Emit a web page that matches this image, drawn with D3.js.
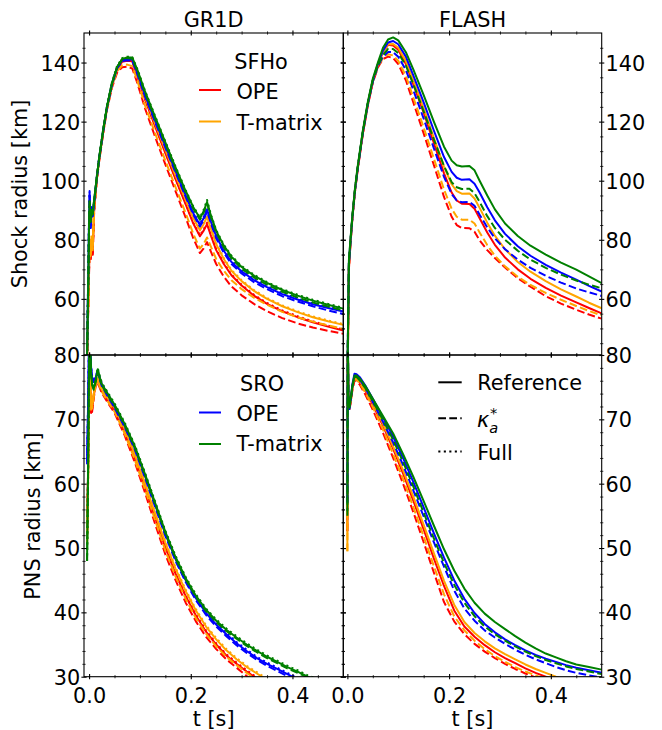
<!DOCTYPE html>
<html><head><meta charset="utf-8">
<script src="https://cdn.jsdelivr.net/npm/d3@7"></script>
<style>
body{margin:0;background:#fff}
svg{display:block;background:#fff}
text{font-family:"DejaVu Sans",sans-serif;fill:#000}
</style>
</head><body>
<svg id="chart" width="662" height="730"></svg>
<script>
// ---------------- DATA ----------------
const panelTitles = ["GR1D", "FLASH"];
const xTickValues = [0.0, 0.2, 0.4];
const yTicksShock = [60, 80, 100, 120, 140];
const yTicksPNS = [30, 40, 50, 60, 70, 80];

// GR1D shock radius [km]
const tGR1DShock = [-0.006,-0.002,0.000,0.001,0.003,0.005,0.007,0.010,0.015,0.020,0.028,0.035,0.045,0.055,0.065,0.075,0.085,0.095,0.11,0.13,0.15,0.17,0.19,0.205,0.218,0.225,0.232,0.24,0.25,0.265,0.28,0.30,0.325,0.35,0.38,0.41,0.44,0.47,0.50];
const gr1dShockRedRef   = [20,55,70,79,73.5,80,75,90,100.3,107.3,116.8,124.3,132.2,137.5,140.3,140.6,140.4,135.3,127.5,118.3,109.3,100.5,92,85.5,81.2,83,85.3,81.2,76.5,71.8,68,64.5,61,58.3,55.8,53.8,52.1,50.6,49.3];
const gr1dShockRedKa    = [20,54,69,78,73,79,74.5,89.5,99.8,106.8,116.3,123.8,131.5,136.5,138.4,138.6,138,133,124.5,114.8,105.5,96.5,87.5,80.5,75.5,77,79.2,75.8,71.8,67.5,64.2,61.2,58.2,55.8,53.5,51.7,50.3,49.2,48.2];
const gr1dShockRedFull  = [20,55,70.5,79.5,74,80.5,75.5,90.3,100.5,107.5,117,124.5,132.4,137.7,140.5,140.8,140.6,135.6,127.8,118.6,109.6,100.8,92.3,85.8,81.5,83.4,85.8,81.5,76.8,72.1,68.3,64.8,61.3,58.6,56.1,54.1,52.4,50.9,49.6];
const gr1dShockOrgRef   = [20,56,72,80,75,81,77,91,100.5,107.5,117,124.5,132.5,138,141,141.5,141.3,136,128.3,119.3,110.5,101.8,93.5,87.3,83.2,85.2,87.8,83.5,78.5,73.5,69.5,66,62.6,60,57.5,55.5,53.8,52.4,51.2];
const gr1dShockOrgKa    = [20,55,71,79,74.5,80,76.5,90.5,100,107,116.5,124,131.8,137,139,139.3,138.8,133.8,125.5,116,106.8,97.8,89,82,77,78.5,80.8,77.5,73.5,69.5,66.3,63.3,60.3,58,55.6,53.8,52.3,51,49.9];
const gr1dShockOrgFull  = [20,56,72.5,80.5,75.5,81.5,77.5,91.2,100.7,107.7,117.2,124.7,132.7,138.2,141.2,141.7,141.5,136.3,128.6,119.6,110.8,102.1,93.8,87.6,83.5,85.6,88.3,83.8,78.8,73.8,69.8,66.3,62.9,60.3,57.8,55.8,54.1,52.7,51.5];
const gr1dShockBluRef   = [20,64,88,96,84,91,88,93,100.8,107.8,117.3,124.8,132.8,138.2,140.8,141.1,141,136.5,129,120.3,111.8,103.3,95,89,85,87.2,90.2,86,81.2,76.3,72.5,69.3,66.3,64,61.6,59.8,58.2,56.9,55.7];
const gr1dShockBluKa    = [20,63,87,95,84,90.5,88,92.8,100.6,107.6,117,124.5,132.5,138,140.5,140.8,140.6,136,128.5,119.8,111.2,102.8,94.5,88.5,84.5,86.6,89.6,85.4,80.5,75.6,71.8,68.6,65.6,63.3,60.9,59.1,57.5,56.1,54.9];
const gr1dShockBluFull  = [20,64,88.5,96.5,84.5,91,88.5,93.2,101,108,117.5,125,133,138.5,141,141.3,141.2,136.8,129.3,120.6,112.1,103.6,95.3,89.3,85.3,87.6,90.8,86.3,81.5,76.6,72.8,69.6,66.6,64.3,61.9,60.1,58.5,57.2,56];
const gr1dShockGrnRef   = [20,62,86,93,86,90,89,93.5,101,108,117.5,125,133,138.5,141.2,141.7,141.7,137.5,130.2,121.5,113,104.5,96.5,91,87.3,89.5,92.8,88,83,78,74.3,70.8,67.8,65.4,63,61.1,59.4,58,56.7];
const gr1dShockGrnKa    = [20,61,85,92,86,89.5,88.5,93,100.8,107.8,117.3,124.8,132.8,138.3,141,141.5,141.3,137,129.8,121,112.5,104,96,90.5,86.8,89,92.3,87.5,82.5,77.4,73.7,70.2,67.2,64.8,62.4,60.5,58.8,57.4,56.1];
const gr1dShockGrnFull  = [20,62,86.5,93.5,86.5,90.5,89,93.5,101.2,108.2,117.8,125.3,133.3,138.8,141.5,142,141.8,137.8,130.5,121.8,113.3,104.8,96.8,91.3,87.6,90,93.5,88.3,83.3,78.3,74.6,71.1,68.1,65.7,63.3,61.4,59.7,58.3,57];

// FLASH shock radius [km]
const tFLASHShock = [-0.002,0.001,0.003,0.006,0.010,0.015,0.020,0.030,0.040,0.050,0.060,0.070,0.080,0.090,0.100,0.115,0.130,0.150,0.170,0.190,0.205,0.215,0.225,0.240,0.250,0.260,0.275,0.290,0.310,0.335,0.360,0.390,0.420,0.450,0.475,0.500];
const flashShockRedRef  = [5,40,70,78.5,87.5,96.5,103.5,115.5,125.5,133.5,139.3,143.5,146,145.8,144.3,139.5,132.5,123,112.8,102.5,96,93.3,92.2,92.1,90.5,87.3,82.5,78.3,74,70,66.8,63.7,61.1,58.8,56.9,55.1];
const flashShockRedKa   = [5,40,70,78.3,87.3,96.3,103.3,115.3,125.3,133.2,138.3,141.2,142,141.5,139.5,134,126.3,116,105.3,94.5,87.8,85,84,83.9,82.7,79.8,76.5,73.8,70.6,67,64.1,60.9,58.4,56.3,54.7,53.3];
const flashShockOrgRef  = [10,44,71,79,88,97,104,116,126,134,139.3,143.5,146.2,146.3,145,140.5,133.8,124.5,114.5,104.8,98.8,96.5,95.6,95.7,94,90.8,85.8,81.4,76.8,72.5,69.2,66,63.2,60.8,58.7,56.8];
const flashShockOrgKa   = [10,44,71,78.8,87.8,96.8,103.8,115.8,125.8,133.5,138.5,141.5,142.8,142.4,140.6,135.5,128,118,107.5,97,90.5,87.8,86.8,86.8,85.5,82.5,78.2,74.6,71,67.5,64.7,62,59.7,57.6,55.9,54.4];
const flashShockBluRef  = [10,47,72,79.5,88,97,104,116,126,134,139.5,144,146.8,147.3,146.2,142,135.5,126.5,117,108,103,101,100.3,100.5,99,96,91,86.6,82,77.8,74.6,71.5,68.9,66.5,64.4,62.5];
const flashShockBluKa   = [10,46,72,79,87.8,96.8,103.8,115.8,125.8,133.5,138.8,142,143.6,143.5,142,137.5,130.5,121,111,101.3,95.5,93.3,92.7,92.8,91.5,88.5,84.2,80.5,76.8,73.3,70.5,67.8,65.5,63.5,62.2,61];
const flashShockGrnRef  = [10,46,73,80,88.5,97.5,104.5,116.5,126.5,134.5,140,145,147.8,148.5,147.5,143.5,137.5,129,120,111.5,106.8,105.2,104.8,105,103.5,100,95,90.3,85.5,81.3,78,75,72.3,69.9,67.6,65.3];
const flashShockGrnKa   = [10,46,72.5,79.5,88,97,104,116,126,134,139,142.5,144.6,144.6,143.2,139,132.5,123.5,114,105,99.5,97.8,97.2,97.3,95.8,92.8,88,84,80,76.3,73.3,70.5,68.2,66.2,64.8,63.6];

// GR1D PNS radius [km]
const tGR1DPNS = [-0.004,-0.002,0.000,0.002,0.004,0.006,0.009,0.013,0.017,0.020,0.025,0.035,0.050,0.070,0.090,0.110,0.130,0.150,0.170,0.190,0.210,0.230,0.250,0.270,0.290,0.310,0.330,0.350,0.370,0.390,0.410,0.430,0.450];
const gr1dPNSRedRef   = [52,62,78,76,71,71.5,73.5,75.5,76,75.4,74.4,73.2,71.5,68.1,64.1,59.5,54.7,50.1,46,42.5,39.5,37,35,33.3,32,30.8,29.7,28.8,28,27.3,26.7,26.2,25.7];
const gr1dPNSRedKa    = [52,61,77.5,75.5,70.8,71.2,73.2,75.2,75.7,75.1,74.1,72.8,71,67.5,63.3,58.6,53.7,49,45,41.5,38.6,36.2,34.3,32.7,31.4,30.1,29.1,28.2,27.4,26.7,26.1,25.6,25.1];
const gr1dPNSRedFull  = [52,62,78.5,76.3,71.3,71.7,73.7,75.7,76.2,75.6,74.6,73.4,71.7,68.3,64.3,59.7,54.9,50.3,46.2,42.7,39.7,37.2,35.2,33.5,32.2,31,29.9,29,28.2,27.5,26.9,26.4,25.9];
const gr1dPNSOrgRef   = [50.5,60,78,77,72,72,73.8,75.6,76.2,75.6,74.6,73.5,71.8,68.5,64.5,60,55.3,50.8,46.8,43.3,40.3,37.8,35.8,34.1,32.7,31.5,30.5,29.5,28.7,28,27.4,26.8,26.3];
const gr1dPNSOrgKa    = [50.5,60,77.5,76.5,71.5,71.7,73.5,75.3,75.9,75.3,74.3,73,71.2,67.8,63.7,59.1,54.3,49.6,45.6,42.1,39.1,36.7,34.7,33.1,31.8,30.6,29.5,28.6,27.8,27.1,26.5,26,25.5];
const gr1dPNSOrgFull  = [50.5,60,78.5,77.3,72.3,72.2,74,75.8,76.4,75.8,74.8,73.7,72,68.7,64.7,60.2,55.5,51,47,43.5,40.5,38,36,34.3,32.9,31.7,30.7,29.7,28.9,28.2,27.6,27,26.5];
const gr1dPNSBluRef   = [63.5,72,83,81,78,76.5,76,76.5,77.5,76.6,75.4,74,72,69,65.5,61.2,56.7,52.2,48.3,45,42.2,39.9,38.1,36.6,35.2,34,32.9,32,31.2,30.4,29.6,28.9,28.3];
const gr1dPNSBluKa    = [63,71.5,82.5,80.8,77.8,76.3,75.8,76.3,77.3,76.4,75.2,73.8,71.8,68.8,65.3,60.9,56.4,51.9,48,44.7,41.9,39.6,37.8,36.3,34.9,33.7,32.6,31.7,30.9,30.1,29.3,28.6,28];
const gr1dPNSBluFull  = [63.5,72,83.5,81.3,78.2,76.7,76.2,76.7,77.7,76.8,75.6,74.2,72.2,69.2,65.7,61.4,56.9,52.4,48.5,45.2,42.4,40.1,38.3,36.8,35.4,34.2,33.1,32.2,31.4,30.6,29.8,29.1,28.5];
const gr1dPNSGrnRef   = [48,62,79,82,77,75.5,74.8,76,77.8,76.8,75.5,74.2,72.3,69.3,65.8,61.5,57,52.5,48.6,45.3,42.6,40.4,38.7,37.3,36.1,35,34,33.1,32.3,31.5,30.8,30,29.4];
const gr1dPNSGrnKa    = [48,61.5,78.5,81.5,77,75.3,74.6,75.8,77.6,76.6,75.3,74,72.1,69.1,65.6,61.3,56.8,52.3,48.4,45.1,42.4,40.2,38.5,37.1,35.9,34.8,33.8,32.9,32.1,31.3,30.6,29.9,29.3];
const gr1dPNSGrnFull  = [48,62,79.5,82.5,77.3,75.8,75,76.2,78,77,75.7,74.4,72.5,69.5,66,61.7,57.2,52.7,48.8,45.5,42.8,40.6,38.9,37.5,36.3,35.2,34.2,33.3,32.5,31.7,31,30.2,29.6];

// FLASH PNS radius [km]
const tFLASHPNS = [0.000,0.0008,0.002,0.004,0.007,0.010,0.014,0.018,0.025,0.035,0.050,0.070,0.090,0.110,0.130,0.150,0.170,0.190,0.210,0.230,0.250,0.270,0.290,0.310,0.330,0.350,0.370,0.390,0.410,0.430,0.450,0.475,0.500];
const flashPNSRedRef  = [52.6,84,72.5,71.6,73,74.8,76.3,76.3,75.7,74.5,72.3,69,65.4,61.5,57.3,52.9,48.4,44.1,40.3,37.8,36.2,34.9,33.8,32.9,32.1,31.3,30.6,30,29.4,28.9,28.4,27.9,27.4];
const flashPNSRedKa   = [52.6,84,72.3,71.4,72.8,74.6,76,76,75.3,73.9,71.5,67.9,64,59.9,55.5,50.9,46.2,41.6,38.6,36.6,35.1,33.9,32.9,32,31.2,30.5,29.9,29.3,28.8,28.3,27.9,27.4,26.9];
const flashPNSOrgRef  = [49.5,84,73,71.8,73.3,75.1,76.5,76.5,75.9,74.7,72.6,69.3,65.8,62,57.9,53.6,49.2,44.9,41.2,38.5,36.8,35.5,34.4,33.5,32.7,31.9,31.2,30.6,30,29.5,29,28.5,28];
const flashPNSOrgKa   = [49.5,84,72.8,71.6,73,74.8,76.2,76.2,75.5,74.2,71.9,68.4,64.6,60.6,56.3,51.8,47.2,42.8,39.4,37.2,35.6,34.3,33.2,32.3,31.5,30.8,30.2,29.6,29.1,28.6,28.1,27.6,27.1];
const flashPNSBluRef  = [57.2,85,73.5,71.8,73.5,75.5,77.1,77,76.5,75.3,73.2,70.3,67.3,63.9,60.2,56.3,52.3,48.5,45,42.1,39.9,38.2,36.9,35.8,34.9,34.1,33.4,32.8,32.3,31.8,31.4,31,30.6];
const flashPNSBluKa   = [57,85,73,71.6,73.2,75.2,76.8,76.7,76.1,74.9,72.7,69.6,66.4,62.8,58.9,54.9,50.9,47.1,43.4,40.6,38.7,37.2,36.1,35.1,34.2,33.4,32.7,32.1,31.5,31,30.6,30.2,29.9];
const flashPNSGrnRef  = [55.7,84,74,72,73.5,75.3,76.8,76.8,76.3,75.2,73.2,70.5,67.8,64.5,61,57.3,53.5,49.8,46.5,43.7,41.5,39.8,38.5,37.4,36.3,35.3,34.4,33.6,33,32.4,31.9,31.5,31.1];
const flashPNSGrnKa   = [55,84,73.5,71.8,73.3,75.1,76.6,76.6,76,74.9,72.8,69.9,66.8,63.3,59.5,55.5,51.5,47.7,44.3,41.5,39.4,37.8,36.6,35.6,34.7,33.9,33.2,32.6,32.1,31.6,31.2,30.8,30.4];

const legendSFHo = ["OPE", "T-matrix"];
const legendSRO = ["OPE", "T-matrix"];
const legendStyles = ["Reference", "κ", "Full"];

// ---------------- STYLE ----------------
const C = {red:"#ff0000", orange:"#ffa500", blue:"#0000ff", green:"#008000"};
const LW = 2.0;
const DASH = {solid:null, dashed:"7.7,3.3", dotted:"2.1,3.4"};
const FS = 20.8;

const svg = d3.select("#chart");

function S(t, v, color, style){ return {t, v, color, style}; }

const panels = [
  { x0:84, x1:343.3, y0:33, y1:355, xd:[-0.01,0.5], yd:[41,150], yMajor:yTicksShock, yMinorStep:5, side:"left", xLab:false, series:[
    S(tGR1DShock, gr1dShockRedRef,"red","solid"), S(tGR1DShock, gr1dShockRedKa,"red","dashed"), S(tGR1DShock, gr1dShockRedFull,"red","dotted"),
    S(tGR1DShock, gr1dShockOrgRef,"orange","solid"), S(tGR1DShock, gr1dShockOrgKa,"orange","dashed"), S(tGR1DShock, gr1dShockOrgFull,"orange","dotted"),
    S(tGR1DShock, gr1dShockBluRef,"blue","solid"), S(tGR1DShock, gr1dShockBluKa,"blue","dashed"), S(tGR1DShock, gr1dShockBluFull,"blue","dotted"),
    S(tGR1DShock, gr1dShockGrnRef,"green","solid"), S(tGR1DShock, gr1dShockGrnKa,"green","dashed"), S(tGR1DShock, gr1dShockGrnFull,"green","dotted")]},
  { x0:343.3, x1:601.7, y0:33, y1:355, xd:[-0.008,0.5], yd:[41,150], yMajor:yTicksShock, yMinorStep:5, side:"right", xLab:false, series:[
    S(tFLASHShock, flashShockRedRef,"red","solid"), S(tFLASHShock, flashShockRedKa,"red","dashed"),
    S(tFLASHShock, flashShockOrgRef,"orange","solid"), S(tFLASHShock, flashShockOrgKa,"orange","dashed"),
    S(tFLASHShock, flashShockBluRef,"blue","solid"), S(tFLASHShock, flashShockBluKa,"blue","dashed"),
    S(tFLASHShock, flashShockGrnRef,"green","solid"), S(tFLASHShock, flashShockGrnKa,"green","dashed")]},
  { x0:84, x1:343.3, y0:355, y1:676.7, xd:[-0.01,0.5], yd:[30,80], yMajor:yTicksPNS, yMinorStep:2, side:"left", xLab:true, series:[
    S(tGR1DPNS, gr1dPNSRedRef,"red","solid"), S(tGR1DPNS, gr1dPNSRedKa,"red","dashed"), S(tGR1DPNS, gr1dPNSRedFull,"red","dotted"),
    S(tGR1DPNS, gr1dPNSOrgRef,"orange","solid"), S(tGR1DPNS, gr1dPNSOrgKa,"orange","dashed"), S(tGR1DPNS, gr1dPNSOrgFull,"orange","dotted"),
    S(tGR1DPNS, gr1dPNSBluRef,"blue","solid"), S(tGR1DPNS, gr1dPNSBluKa,"blue","dashed"), S(tGR1DPNS, gr1dPNSBluFull,"blue","dotted"),
    S(tGR1DPNS, gr1dPNSGrnRef,"green","solid"), S(tGR1DPNS, gr1dPNSGrnKa,"green","dashed"), S(tGR1DPNS, gr1dPNSGrnFull,"green","dotted")]},
  { x0:343.3, x1:601.7, y0:355, y1:676.7, xd:[-0.008,0.5], yd:[30,80], yMajor:yTicksPNS, yMinorStep:2, side:"right", xLab:true, series:[
    S(tFLASHPNS, flashPNSRedRef,"red","solid"), S(tFLASHPNS, flashPNSRedKa,"red","dashed"),
    S(tFLASHPNS, flashPNSOrgRef,"orange","solid"), S(tFLASHPNS, flashPNSOrgKa,"orange","dashed"),
    S(tFLASHPNS, flashPNSBluRef,"blue","solid"), S(tFLASHPNS, flashPNSBluKa,"blue","dashed"),
    S(tFLASHPNS, flashPNSGrnRef,"green","solid"), S(tFLASHPNS, flashPNSGrnKa,"green","dashed")]}
];

const defs = svg.append("defs");

panels.forEach((p, i) => {
  const x = d3.scaleLinear().domain(p.xd).range([p.x0, p.x1]);
  const y = d3.scaleLinear().domain(p.yd).range([p.y1, p.y0]);
  const cid = "clip" + i;
  defs.append("clipPath").attr("id", cid).append("rect")
    .attr("x", p.x0).attr("y", p.y0).attr("width", p.x1 - p.x0).attr("height", p.y1 - p.y0);

  const gl = svg.append("g").attr("clip-path", `url(#${cid})`);
  const line = d3.line().x(d => x(d[0])).y(d => y(d[1]));
  p.series.forEach(s => {
    const pts = s.t.map((t, k) => [t, s.v[k]]);
    gl.append("path").datum(pts).attr("d", line)
      .attr("fill", "none").attr("stroke", C[s.color]).attr("stroke-width", LW)
      .attr("stroke-linejoin", "round")
      .attr("stroke-dasharray", DASH[s.style]);
  });

  // spines
  svg.append("rect").attr("x", p.x0).attr("y", p.y0).attr("width", p.x1 - p.x0).attr("height", p.y1 - p.y0)
    .attr("fill", "none").attr("stroke", "#000").attr("stroke-width", 1.1);

  // tick values
  const xMinor = d3.range(0.05, 0.5, 0.05).filter(v => !xTickValues.some(m => Math.abs(m - v) < 1e-6));
  const yMinor = d3.range(Math.ceil(p.yd[0] / p.yMinorStep) * p.yMinorStep, p.yd[1] + 1e-9, p.yMinorStep)
    .filter(v => !p.yMajor.includes(v) && v > p.yd[0] && v < p.yd[1]);

  function tickAxis(gen, vals, pos, major, labels, fmt) {
    const g = svg.append("g").attr("transform", pos)
      .call(gen.tickValues(vals).tickSizeInner(0).tickSizeOuter(0).tickPadding(0)
        .tickFormat(labels ? fmt : () => ""));
    g.select(".domain").remove();
    g.attr("font-family", "DejaVu Sans, sans-serif").attr("font-size", FS);
    const half = major ? 2.6 : 1.6;
    return { g, half, w: major ? 1.1 : 0.8 };
  }

  // bottom & top x ticks
  [["bottom", p.y1], ["top", p.y0]].forEach(([side, yy]) => {
    [[xTickValues, true], [xMinor, false]].forEach(([vals, major]) => {
      const showLab = major && side === "bottom" && p.xLab;
      const { g, half, w } = tickAxis(d3.axisBottom(x), vals, `translate(0,${yy})`, major, showLab, d3.format(".1f"));
      g.selectAll(".tick line").attr("y1", -half).attr("y2", half).attr("stroke", "#000").attr("stroke-width", w);
      g.selectAll(".tick text").attr("y", 26.3).attr("dy", null).attr("fill", "#000");
    });
  });
  // left & right y ticks
  [["left", p.x0], ["right", p.x1]].forEach(([side, xx]) => {
    [[p.yMajor, true], [yMinor, false]].forEach(([vals, major]) => {
      const showLab = major && side === p.side;
      const gen = side === "left" ? d3.axisLeft(y) : d3.axisRight(y);
      const { g, half, w } = tickAxis(gen, vals, `translate(${xx},0)`, major, showLab, d3.format("d"));
      g.selectAll(".tick line").attr("x1", -half).attr("x2", half).attr("stroke", "#000").attr("stroke-width", w);
      g.selectAll(".tick text").attr("x", side === "left" ? -3.8 : 3.8).attr("dy", "0.365em")
        .attr("text-anchor", side === "left" ? "end" : "start").attr("fill", "#000");
    });
  });
});

// titles
svg.append("text").attr("x", 213.6).attr("y", 27).attr("text-anchor", "middle").attr("font-size", FS).text(panelTitles[0]);
svg.append("text").attr("x", 472.5).attr("y", 27).attr("text-anchor", "middle").attr("font-size", FS).text(panelTitles[1]);
// axis labels
svg.append("text").attr("transform", "translate(26.5,194) rotate(-90)").attr("text-anchor", "middle").attr("font-size", FS).text("Shock radius [km]");
svg.append("text").attr("transform", "translate(40,516) rotate(-90)").attr("text-anchor", "middle").attr("font-size", FS).text("PNS radius [km]");
svg.append("text").attr("x", 213.6).attr("y", 725.5).attr("text-anchor", "middle").attr("font-size", FS).text("t [s]");
svg.append("text").attr("x", 472.5).attr("y", 725.5).attr("text-anchor", "middle").attr("font-size", FS).text("t [s]");

// legends
function handle(x1, x2, yy, color, dash) {
  svg.append("line").attr("x1", x1).attr("x2", x2).attr("y1", yy).attr("y2", yy)
    .attr("stroke", color).attr("stroke-width", LW).attr("stroke-dasharray", dash);
}
function label(xx, yy, txt, anchor) {
  return svg.append("text").attr("x", xx).attr("y", yy).attr("font-size", FS).attr("text-anchor", anchor || "start").text(txt);
}
// SFHo
label(261, 68.5, "SFHo", "middle");
handle(199, 221, 90, C.red, null); label(236.5, 99, legendSFHo[0]);
handle(199, 221, 121.5, C.orange, null); label(236.5, 129.5, legendSFHo[1]);
// SRO
label(262, 390.7, "SRO", "middle");
handle(199, 221, 412.5, C.blue, null); label(236.5, 420.8, legendSRO[0]);
handle(199, 221, 444, C.green, null); label(236.5, 451, legendSRO[1]);
// styles
handle(438.3, 461.7, 382.3, "#000", null); label(477.3, 390, legendStyles[0]);
handle(438.3, 461.7, 418.3, "#000", DASH.dashed);
const kap = svg.append("text").attr("x", 477).attr("y", 426.7).attr("font-size", FS);
kap.append("tspan").attr("font-style", "italic").text(legendStyles[1]);
kap.append("tspan").attr("font-style", "italic").attr("font-size", 14.6).attr("dy", 6.3).text("a");
kap.append("tspan").attr("font-size", 14.6).attr("dx", -8.3).attr("dy", -15).text("*");
handle(438.3, 461.7, 451.5, "#000", DASH.dotted); label(477.3, 460, legendStyles[2]);
</script>
</body></html>
